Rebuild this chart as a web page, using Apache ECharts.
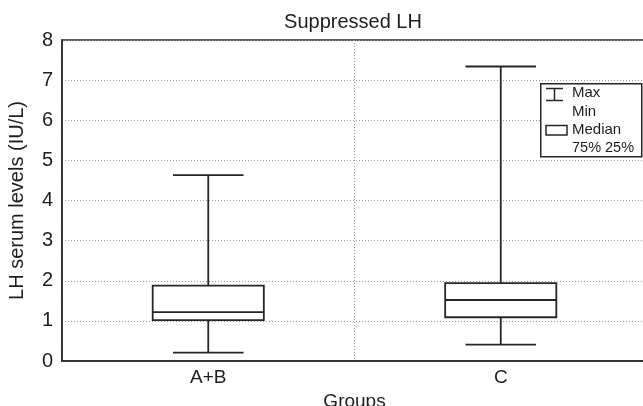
<!DOCTYPE html>
<html>
<head>
<meta charset="utf-8">
<script src="https://cdn.jsdelivr.net/npm/echarts@6/dist/echarts.min.js"></script>
<style>html,body{margin:0;padding:0;background:#fff}#c{width:643px;height:406px}</style>
</head>
<body>
<div id="c"></div>
<script>
var categories = ['A+B', 'C'];
var mins = [0.21, 0.41];
var q1s = [1.02, 1.09];
var medians = [1.22, 1.52];
var q3s = [1.88, 1.94];
var maxs = [4.63, 7.34];
var yTicks = [0, 1, 2, 3, 4, 5, 6, 7, 8];

var FONT = '"Liberation Sans", Arial, sans-serif';
var INK = '#262626';

var data = categories.map(function (c, i) {
  return [i, mins[i], q1s[i], medians[i], q3s[i], maxs[i]];
});

function renderBox(params, api) {
  var i = api.value(0);
  var band = api.size([1, 0])[0];
  var pMin = api.coord([i, api.value(1)]);
  var pQ1 = api.coord([i, api.value(2)]);
  var pMed = api.coord([i, api.value(3)]);
  var pQ3 = api.coord([i, api.value(4)]);
  var pMax = api.coord([i, api.value(5)]);
  var cx = pMin[0];
  var bw = band * 0.38 / 2;
  var cw = band * 0.241 / 2;
  var st = { stroke: INK, lineWidth: 1.8, fill: null };
  return {
    type: 'group',
    children: [
      { type: 'line', shape: { x1: cx, y1: pMax[1], x2: cx, y2: pQ3[1] }, style: st },
      { type: 'line', shape: { x1: cx, y1: pQ1[1], x2: cx, y2: pMin[1] }, style: st },
      { type: 'line', shape: { x1: cx - cw, y1: pMax[1], x2: cx + cw, y2: pMax[1] }, style: st },
      { type: 'line', shape: { x1: cx - cw, y1: pMin[1], x2: cx + cw, y2: pMin[1] }, style: st },
      { type: 'rect', shape: { x: cx - bw, y: pQ3[1], width: 2 * bw, height: pQ1[1] - pQ3[1] }, style: { stroke: INK, lineWidth: 1.8, fill: '#fff' } },
      { type: 'line', shape: { x1: cx - bw, y1: pMed[1], x2: cx + bw, y2: pMed[1] }, style: st }
    ]
  };
}

var chart = echarts.init(document.getElementById('c'), null, { renderer: 'canvas' });
chart.setOption({
  animation: false,
  backgroundColor: '#fff',
  title: {
    text: 'Suppressed LH',
    left: 348, top: 7, textAlign: 'center',
    textStyle: { fontFamily: FONT, fontSize: 20, fontWeight: 'normal', color: '#1e1e1e' }
  },
  grid: {
    left: 62, top: 40, width: 585, height: 321,
    outerBoundsMode: 'none', containLabel: false,
    show: true, borderColor: INK, borderWidth: 1.5, backgroundColor: 'transparent'
  },
  xAxis: {
    type: 'category',
    data: categories,
    boundaryGap: true,
    name: 'Groups', nameLocation: 'middle', nameGap: 26,
    nameTextStyle: { fontFamily: FONT, fontSize: 19, color: '#1e1e1e' },
    axisLine: { show: true, lineStyle: { color: INK, width: 1.5 } },
    axisTick: { show: false },
    axisLabel: { fontFamily: FONT, fontSize: 19, color: '#1e1e1e', margin: 7 },
    splitLine: { show: true, lineStyle: { color: '#999', type: [1, 2], width: 1 } }
  },
  yAxis: {
    type: 'value',
    min: yTicks[0], max: yTicks[yTicks.length - 1], interval: 1,
    name: 'LH serum levels (IU/L)', nameLocation: 'middle', nameGap: 35, nameRotate: 90,
    nameTextStyle: { fontFamily: FONT, fontSize: 20, color: '#1e1e1e' },
    axisLine: { show: true, lineStyle: { color: INK, width: 1.5 } },
    axisTick: { show: false },
    axisLabel: { fontFamily: FONT, fontSize: 20, color: '#1e1e1e', margin: 9 },
    splitLine: { show: true, lineStyle: { color: '#999', type: [1, 2], width: 1 } }
  },
  series: [{
    type: 'custom',
    renderItem: renderBox,
    encode: { x: 0, y: [1, 2, 3, 4, 5] },
    data: data,
    z: 5
  }],
  graphic: [
    { type: 'rect', left: 540, top: 83, shape: { width: 101, height: 73 }, style: { fill: '#fff', stroke: INK, lineWidth: 1.5 }, z: 100 },
    { type: 'line', shape: { x1: 546, y1: 88.5, x2: 563, y2: 88.5 }, style: { stroke: INK, lineWidth: 1.5 }, z: 101 },
    { type: 'line', shape: { x1: 554.5, y1: 88.5, x2: 554.5, y2: 100.5 }, style: { stroke: INK, lineWidth: 1.5 }, z: 101 },
    { type: 'line', shape: { x1: 546, y1: 100.5, x2: 563, y2: 100.5 }, style: { stroke: INK, lineWidth: 1.5 }, z: 101 },
    { type: 'rect', shape: { x: 546, y: 125.5, width: 21, height: 9.5 }, style: { fill: '#fff', stroke: INK, lineWidth: 1.5 }, z: 101 },
    { type: 'text', left: 572, top: 85, style: { text: 'Max', font: '15px ' + FONT, fill: '#1e1e1e' }, z: 101 },
    { type: 'text', left: 572, top: 104, style: { text: 'Min', font: '15px ' + FONT, fill: '#1e1e1e' }, z: 101 },
    { type: 'text', left: 572, top: 122, style: { text: 'Median', font: '15px ' + FONT, fill: '#1e1e1e' }, z: 101 },
    { type: 'text', left: 572, top: 140, style: { text: '75% 25%', font: '14.5px ' + FONT, fill: '#1e1e1e' }, z: 101 }
  ]
});
</script>
</body>
</html>
